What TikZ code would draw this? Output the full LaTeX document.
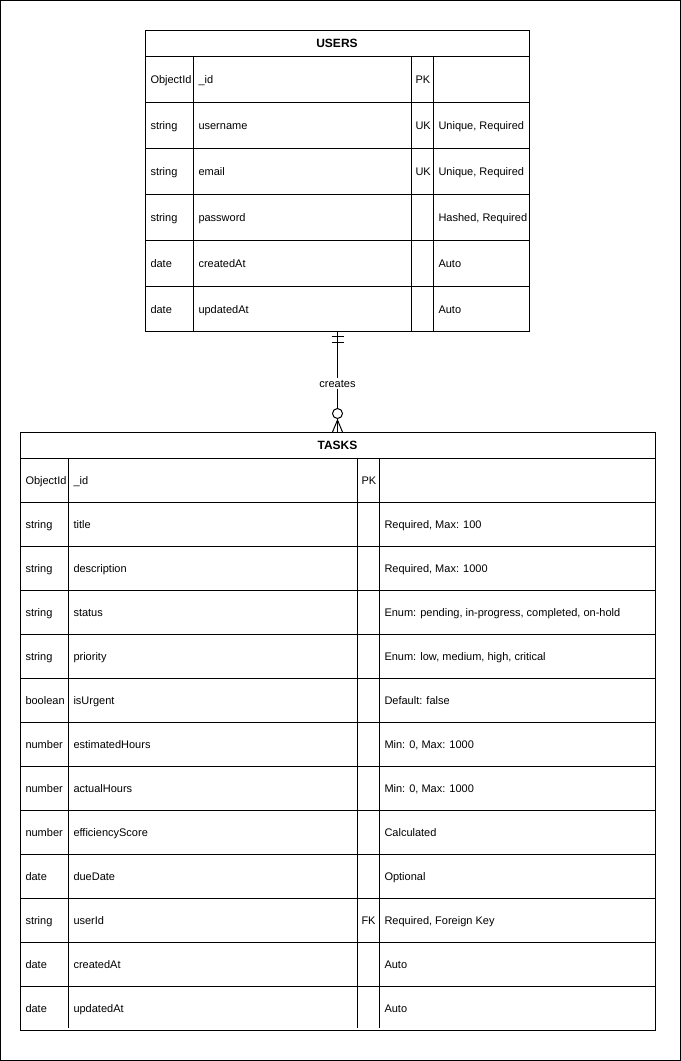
\documentclass[tikz,border=0pt]{standalone}
\usepackage{fontspec}
\setmainfont{Liberation Sans}
\begin{document}
\begin{tikzpicture}[x=0.75pt,y=-0.75pt,line width=0.75pt,
  cell/.style={anchor=base west,inner sep=0pt,font=\fontsize{8.25}{10}\selectfont},
  ttl/.style={inner sep=0pt,font=\bfseries\fontsize{9}{11}\selectfont},
  tbl/.style={draw,inner sep=0pt,fill=white},
  rule/.style={line width=0.75pt}]
% page frame
\draw[fill=white] (0.5,0.5) rectangle (680.5,1060.5);
\useasboundingbox (0,0) rectangle (681,1061);

% ---------- USERS ----------
\node[tbl,minimum width=288pt,minimum height=225.75pt] (users) at (337,180.5) {};
\node[ttl] (userstitle) at (337,43) {USERS};
\draw[rule] (145,56) -- (529,56);
\foreach \r in {1,...,5}{
  \draw[rule] (145,56+46*\r) -- (529,56+46*\r);
}
\foreach \cx in {193,411,433}{
  \draw[rule] (\cx,56) -- (\cx,331);
}
\foreach \r/\ty/\nm/\ky/\nt [count=\i from 0] in {
  0/ObjectId/\_id/PK/,
  1/string/username/UK/{Unique, Required},
  2/string/email/UK/{Unique, Required},
  3/string/password//{Hashed, Required},
  4/date/createdAt//Auto,
  5/date/updatedAt//Auto}{
  \node[cell] (ut\i) at (150,83+46*\r) {\ty};
  \node[cell] (un\i) at (198,83+46*\r) {\nm};
  \node[cell] (uk\i) at (415,83+46*\r) {\ky};
  \node[cell] (uc\i) at (438,83+46*\r) {\nt};
}

% ---------- TASKS ----------
\node[tbl,minimum width=476.25pt,minimum height=448.5pt] (tasks) at (337.5,731) {};
\node[ttl] (taskstitle) at (337.5,445) {TASKS};
\draw[rule] (20,458) -- (655,458);
\foreach \r in {1,...,12}{
  \draw[rule] (20,458+44*\r) -- (655,458+44*\r);
}
\foreach \cx in {68,357,379}{
  \draw[rule] (\cx,458) -- (\cx,1028);
}
\foreach \r/\ty/\nm/\ky/\nt [count=\i from 0] in {
  0/ObjectId/\_id/PK/,
  1/string/title//{Required, Max: 100},
  2/string/description//{Required, Max: 1000},
  3/string/status//{Enum: pending, in-progress, completed, on-hold},
  4/string/priority//{Enum: low, medium, high, critical},
  5/boolean/isUrgent//{Default: false},
  6/number/estimatedHours//{Min: 0, Max: 1000},
  7/number/actualHours//{Min: 0, Max: 1000},
  8/number/efficiencyScore//Calculated,
  9/date/dueDate//Optional,
  10/string/userId/FK/{Required, Foreign Key},
  11/date/createdAt//Auto,
  12/date/updatedAt//Auto}{
  \node[cell] (tt\i) at (25,484+44*\r) {\ty};
  \node[cell] (tn\i) at (73,484+44*\r) {\nm};
  \node[cell] (tk\i) at (361,484+44*\r) {\ky};
  \node[cell] (tc\i) at (384,484+44*\r) {\nt};
}

% ---------- relationship: one USER creates zero-or-many TASKS ----------
\coordinate (relA) at (users.south -| 337.5,0);
\coordinate (relB) at (tasks.north -| 337.5,0);
\draw[rule] (relA) -- (relB);
% mandatory one
\draw[rule] (331.5,336) -- (343.5,336);
\draw[rule] (331.5,342) -- (343.5,342);
% optional many
\draw[rule,fill=white] (337.5,413.5) circle[radius=5];
\draw[rule] (337.5,420) -- (332.5,432);
\draw[rule] (337.5,420) -- (342.5,432);
\node[font=\fontsize{8.25}{10}\selectfont,fill=white,inner sep=1.5pt] (creates) at (337.5,383.5) {creates};
\end{tikzpicture}
\end{document}
